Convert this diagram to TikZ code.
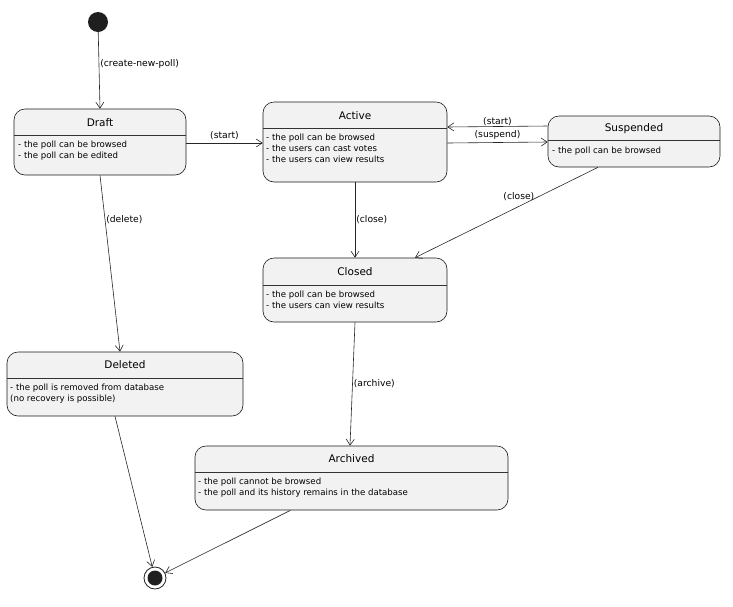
\documentclass[tikz,border=0pt]{standalone}
\usepackage{fontspec}
\setmainfont{DejaVu Sans}
\usetikzlibrary{arrows.meta}
\begin{document}
\begin{tikzpicture}[x=1pt,y=-1pt,
  st/.style={draw=black!90,fill=black!5,rounded corners=11pt,line width=0.6pt,inner sep=0pt},
  ttl/.style={font=\fontsize{10.5}{12}\selectfont,inner sep=0pt},
  bd/.style={font=\fontsize{8.6}{11}\selectfont,align=left,anchor=north west,inner sep=0pt},
  lb/.style={font=\fontsize{9.2}{11}\selectfont,inner sep=1pt},
  ar/.style={draw=black!85,line width=0.6pt,-{Straight Barb[length=6pt,width=8pt]}}]
\useasboundingbox (0,0) rectangle (733,606);
\node[circle,fill=black!88,minimum size=20pt,inner sep=0pt] (ini) at (98,22) {};
\node[circle,draw=black!88,line width=0.8pt,minimum size=22pt,inner sep=0pt] (fin) at (155,578) {};
\fill[black!88] (fin) circle (7.5);
% states
\node[st,minimum width=172pt,minimum height=66pt] (draft) at (100,142) {};
\node[st,minimum width=184pt,minimum height=80pt] (active) at (355,142) {};
\node[st,minimum width=172pt,minimum height=51pt] (susp) at (634,141.5) {};
\node[st,minimum width=184pt,minimum height=64pt] (closed) at (355,290) {};
\node[st,minimum width=236pt,minimum height=64pt] (deleted) at (125,384) {};
\node[st,minimum width=313pt,minimum height=64pt] (arch) at (351.5,478) {};
\draw[line width=0.5pt,black!80] (14,135)--(186,135) (263,128)--(447,128) (548,140)--(720,140)
 (263,285)--(447,285) (7,378)--(243,378) (195,472)--(508,472);
\node[ttl] at (100,123) {Draft};
\node[ttl] at (355,116) {Active};
\node[ttl] at (634,129) {Suspended};
\node[ttl] at (355,272) {Closed};
\node[ttl] at (125,365) {Deleted};
\node[ttl] at (351.5,459) {Archived};
\node[bd] at (18,141) {- the poll can be browsed\\- the poll can be edited};
\node[bd] at (266,134) {- the poll can be browsed\\- the users can cast votes\\- the users can view results};
\node[bd] at (552,147) {- the poll can be browsed};
\node[bd] at (266,291) {- the poll can be browsed\\- the users can view results};
\node[bd] at (10,384) {- the poll is removed from database\\(no recovery is possible)};
\node[bd] at (198,478) {- the poll cannot be browsed\\- the poll and its history remains in the database};
% edges
\draw[ar] (ini) -- (draft.north) node[lb,pos=0.42,anchor=west] {(create-new-poll)};
\draw[ar] ([yshift=-1pt]draft.east) -- ([yshift=-1pt]active.west) node[lb,midway,above=2pt] {(start)};
\draw[ar] ([yshift=-1pt]active.east) -- ([yshift=-0.5pt]susp.west) node[lb,midway,above=2pt] {(suspend)};
\draw[ar] ([yshift=15.5pt]susp.west) -- ([yshift=15pt]active.east) node[lb,midway,above=-1pt] {(start)};
\draw[ar] (active.south) -- (closed.north) node[lb,midway,anchor=west] {(close)};
\draw[ar] ([xshift=-36pt]susp.south) -- ([xshift=60pt]closed.north) node[lb,pos=0.33,anchor=north east,xshift=-2pt,yshift=6pt] {(close)};
\draw[ar] (draft.south) -- ([xshift=-5pt]deleted.north) node[lb,pos=0.25,anchor=west] {(delete)};
\draw[ar] (closed.south) -- ([xshift=-1.5pt]arch.north) node[lb,midway,anchor=west] {(archive)};
\draw[ar] ([xshift=-10pt]deleted.south) -- (fin);
\draw[ar] ([xshift=-61pt]arch.south) -- (fin);
\end{tikzpicture}
\end{document}
